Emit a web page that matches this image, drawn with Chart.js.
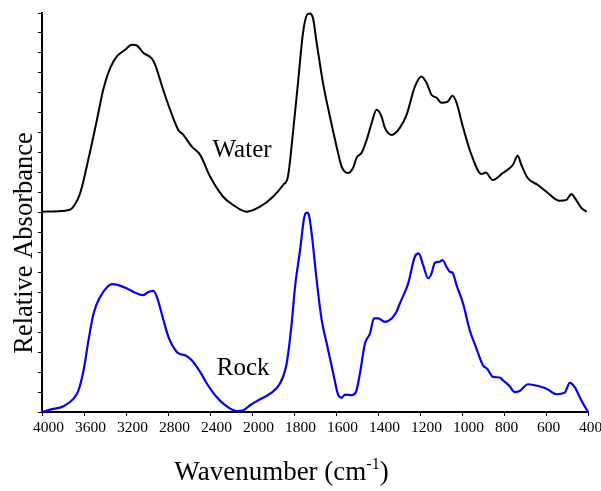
<!DOCTYPE html>
<html>
<head>
<meta charset="utf-8">
<script src="https://cdn.jsdelivr.net/npm/chart.js@4/dist/chart.umd.min.js"></script>
<style>
  html, body { margin: 0; padding: 0; background: #fff; }
</style>
</head>
<body>
<canvas id="irChart" width="601" height="491"></canvas>
<script>
// tick wavenumbers, the axis is evenly spaced between them (scale changes at 2000)
var tickWn = [4000, 3600, 3200, 2800, 2400, 2000, 1800, 1600, 1400, 1200, 1000, 800, 600, 400];

// water spectrum (drawn with an offset of 1 above the rock one)
var waterWn = [4000,3778,3715,3636,3560,3477,3417,3350,3287,3208,3144,3096,3036,2954,2922,2846,2780,2703,2656,2573,2494,2399,2275,2180,2050,1962,1900,1852,1829,1805,1781,1757,1738,1724,1710,1692,1662,1629,1597,1573,1543,1519,1502,1478,1454,1430,1407,1383,1367,1335,1296,1264,1224,1193,1169,1145,1121,1098,1068,1045,1026,996,955,907,887,854,806,758,735,717,687,639,598,535,503,479,463,432,406];
var waterAbs = [0.004,0.009,0.021,0.098,0.263,0.464,0.615,0.725,0.782,0.816,0.841,0.837,0.801,0.771,0.740,0.615,0.515,0.415,0.390,0.330,0.289,0.180,0.079,0.038,0.004,0.029,0.079,0.138,0.180,0.399,0.650,0.901,0.991,0.998,0.976,0.851,0.650,0.481,0.330,0.230,0.198,0.223,0.274,0.299,0.364,0.449,0.515,0.481,0.424,0.389,0.424,0.489,0.632,0.682,0.650,0.590,0.575,0.550,0.556,0.585,0.550,0.431,0.289,0.193,0.200,0.163,0.198,0.238,0.284,0.238,0.173,0.138,0.104,0.059,0.063,0.093,0.073,0.023,0.004];
var waterOffset = 1;

// rock spectrum
var rockWn = [4000,3921,3795,3699,3652,3604,3557,3509,3446,3382,3334,3271,3191,3129,3034,2986,2938,2906,2843,2796,2716,2684,2637,2573,2494,2430,2351,2256,2145,2082,2018,1970,1914,1867,1835,1811,1795,1771,1752,1740,1729,1716,1692,1668,1644,1613,1589,1573,1557,1526,1505,1486,1462,1438,1419,1399,1367,1335,1312,1296,1256,1225,1206,1185,1161,1145,1129,1106,1093,1074,1058,1045,1026,995,963,931,900,881,852,820,805,773,749,725,686,654,598,551,511,487,464,432,400];
var rockAbs = [0,0.012,0.029,0.067,0.109,0.209,0.360,0.494,0.577,0.624,0.641,0.636,0.619,0.602,0.586,0.602,0.607,0.577,0.460,0.377,0.301,0.290,0.285,0.260,0.201,0.143,0.084,0.034,0.005,0.009,0.034,0.059,0.092,0.143,0.243,0.444,0.628,0.812,0.971,0.999,0.987,0.896,0.661,0.460,0.343,0.193,0.084,0.072,0.087,0.084,0.100,0.193,0.343,0.394,0.469,0.469,0.452,0.469,0.502,0.544,0.645,0.778,0.795,0.736,0.670,0.695,0.748,0.753,0.762,0.728,0.703,0.698,0.636,0.544,0.410,0.318,0.234,0.218,0.176,0.173,0.159,0.129,0.100,0.105,0.139,0.134,0.117,0.089,0.097,0.146,0.126,0.059,0];

// curve names written next to the curves (wavenumber / absorbance of the text baseline)
var curveNames = ["Water", "Rock"];
var nameWn = [2095, 2084];
var nameAbs = [1.279, 0.184];

// wavenumber -> axis position (0..13), piecewise linear between ticks
function toPos(w) {
    for (var i = 0; i < tickWn.length - 1; i++) {
        if (w >= tickWn[i + 1]) {
            return i + (tickWn[i] - w) / (tickWn[i] - tickWn[i + 1]);
        }
    }
    return tickWn.length - 1;
}

function makePoints(wn, abs, offset) {
    var pts = [];
    for (var i = 0; i < wn.length; i++) {
        pts.push({ x: toPos(wn[i]), y: abs[i] + offset });
    }
    return pts;
}

var serif = '"Liberation Serif", "Times New Roman", serif';

var textPlugin = {
    id: 'textLabels',
    afterDraw: function(chart) {
        var ctx = chart.ctx;
        var xs = chart.scales.x, ys = chart.scales.y;
        ctx.save();
        ctx.fillStyle = '#000';

        // curve names
        ctx.font = '25px ' + serif;
        ctx.textAlign = 'center';
        ctx.textBaseline = 'alphabetic';
        for (var i = 0; i < curveNames.length; i++) {
            ctx.fillText(curveNames[i], xs.getPixelForValue(toPos(nameWn[i])), ys.getPixelForValue(nameAbs[i]));
        }

        // y title
        ctx.save();
        ctx.font = '26.5px ' + serif;
        ctx.translate(32, 243);
        ctx.rotate(-Math.PI / 2);
        ctx.fillText('Relative Absorbance', 0, 0);
        ctx.restore();

        // x title with superscript
        var main = 'Wavenumber (cm', sup = '-1', tail = ')';
        ctx.font = '27px ' + serif;
        var w1 = ctx.measureText(main).width, w3 = ctx.measureText(tail).width;
        ctx.font = '16px ' + serif;
        var w2 = ctx.measureText(sup).width;
        var x0 = 281.5 - (w1 + w2 + w3) / 2, base = 480;
        ctx.textAlign = 'left';
        ctx.font = '27px ' + serif;
        ctx.fillText(main, x0, base);
        ctx.font = '16px ' + serif;
        ctx.fillText(sup, x0 + w1, base - 11);
        ctx.font = '27px ' + serif;
        ctx.fillText(tail, x0 + w1 + w2, base);
        ctx.restore();
    }
};

var chart = new Chart(document.getElementById('irChart'), {
    type: 'line',
    data: {
        datasets: [{
            label: 'Water',
            data: makePoints(waterWn, waterAbs, waterOffset),
            borderColor: '#000000',
            borderWidth: 2,
            pointRadius: 0,
            cubicInterpolationMode: 'monotone',
            clip: false
        }, {
            label: 'Rock',
            data: makePoints(rockWn, rockAbs, 0),
            borderColor: '#0000ff',
            borderWidth: 2.2,
            pointRadius: 0,
            cubicInterpolationMode: 'monotone',
            clip: false
        }]
    },
    options: {
        responsive: false,
        animation: false,
        devicePixelRatio: 1,
        layout: { padding: { top: 13, right: 13, left: 0, bottom: 0 } },
        plugins: { legend: { display: false }, tooltip: { enabled: false } },
        scales: {
            x: {
                type: 'linear',
                min: 0,
                max: tickWn.length - 1,
                afterFit: function(scale) {
                    scale.height = 79;
                    scale.paddingLeft = 0;
                    scale.paddingRight = 0;
                },
                ticks: {
                    stepSize: 1,
                    autoSkip: false,
                    maxRotation: 0,
                    align: 'start',
                    labelOffset: -9,
                    padding: 3,
                    color: '#000',
                    font: { family: serif, size: 15.5 },
                    callback: function(v) { return String(tickWn[v]); }
                },
                grid: { drawOnChartArea: false, tickLength: 4, color: '#000', lineWidth: 1 },
                border: { color: '#000', width: 2 }
            },
            y: {
                min: 0,
                max: 2,
                afterFit: function(scale) {
                    scale.width = 42;
                    scale.paddingTop = 0;
                    scale.paddingBottom = 0;
                },
                ticks: { stepSize: 0.1, display: false },
                grid: { drawOnChartArea: false, tickLength: 4, color: '#000', lineWidth: 1 },
                border: { color: '#000', width: 2 }
            }
        }
    },
    plugins: [textPlugin]
});
</script>
</body>
</html>
